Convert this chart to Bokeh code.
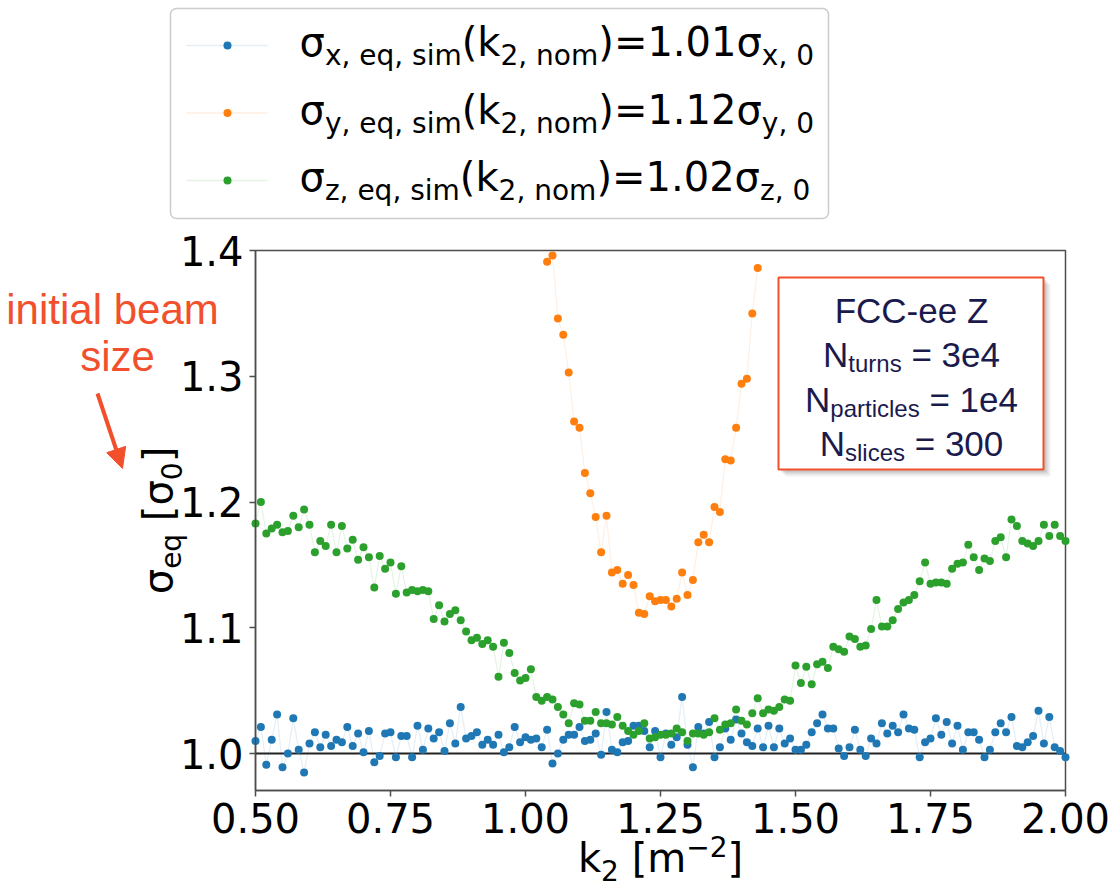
import math
from bokeh.plotting import figure
from bokeh.models import (Range1d, Label, BoxAnnotation, Arrow, NormalHead,
                          FixedTicker, NumeralTickFormatter, LinearAxis)
from bokeh.embed import file_html
from bokeh.resources import INLINE

# ---------------- data ----------------
k2 = [0.50, 0.51, 0.52, 0.53, 0.54, 0.55, 0.56, 0.57, 0.58, 0.59,
      0.60, 0.61, 0.62, 0.63, 0.64, 0.65, 0.66, 0.67, 0.68, 0.69,
      0.70, 0.71, 0.72, 0.73, 0.74, 0.75, 0.76, 0.77, 0.78, 0.79,
      0.80, 0.81, 0.82, 0.83, 0.84, 0.85, 0.86, 0.87, 0.88, 0.89,
      0.90, 0.91, 0.92, 0.93, 0.94, 0.95, 0.96, 0.97, 0.98, 0.99,
      1.00, 1.01, 1.02, 1.03, 1.04, 1.05, 1.06, 1.07, 1.08, 1.09,
      1.10, 1.11, 1.12, 1.13, 1.14, 1.15, 1.16, 1.17, 1.18, 1.19,
      1.20, 1.21, 1.22, 1.23, 1.24, 1.25, 1.26, 1.27, 1.28, 1.29,
      1.30, 1.31, 1.32, 1.33, 1.34, 1.35, 1.36, 1.37, 1.38, 1.39,
      1.40, 1.41, 1.42, 1.43, 1.44, 1.45, 1.46, 1.47, 1.48, 1.49,
      1.50, 1.51, 1.52, 1.53, 1.54, 1.55, 1.56, 1.57, 1.58, 1.59,
      1.60, 1.61, 1.62, 1.63, 1.64, 1.65, 1.66, 1.67, 1.68, 1.69,
      1.70, 1.71, 1.72, 1.73, 1.74, 1.75, 1.76, 1.77, 1.78, 1.79,
      1.80, 1.81, 1.82, 1.83, 1.84, 1.85, 1.86, 1.87, 1.88, 1.89,
      1.90, 1.91, 1.92, 1.93, 1.94, 1.95, 1.96, 1.97, 1.98, 1.99,
      2.00]

sigma_x = [1.010, 1.021, 0.991, 1.011, 1.031, 0.989, 1.000, 1.028, 1.003, 0.985,
           1.008, 1.017, 1.005, 1.015, 1.006, 1.011, 1.009, 1.021, 1.006, 1.016,
           1.001, 1.018, 0.993, 0.998, 1.016, 1.017, 0.997, 1.014, 1.014, 0.997,
           1.022, 1.003, 1.020, 1.012, 1.017, 1.002, 1.024, 1.008, 1.037, 1.012,
           1.014, 1.017, 1.007, 1.011, 1.007, 1.015, 1.001, 1.005, 1.021, 1.009,
           1.013, 1.011, 1.012, 1.005, 1.019, 0.992, 1.000, 1.011, 1.015, 1.015,
           1.021, 1.010, 1.011, 1.016, 0.999, 1.033, 1.003, 1.001, 1.009, 1.010,
           1.022, 1.022, 1.018, 1.005, 1.018, 0.997, 1.016, 1.007, 1.013, 1.045,
           1.007, 0.989, 1.021, 1.016, 1.025, 0.997, 1.005, 1.020, 1.011, 1.027,
           1.016, 1.009, 1.006, 1.020, 1.005, 1.022, 1.005, 1.020, 1.008, 1.012,
           1.003, 1.003, 1.007, 1.017, 1.024, 1.031, 1.020, 1.020, 1.004, 0.998,
           1.005, 1.019, 1.003, 0.998, 1.012, 1.008, 1.024, 1.016, 1.022, 1.017,
           1.031, 1.020, 1.019, 0.997, 1.009, 1.012, 1.028, 1.015, 1.025, 1.008,
           1.022, 1.003, 1.017, 1.017, 1.011, 0.997, 1.003, 1.017, 1.024, 1.017,
           1.029, 1.006, 1.005, 1.009, 1.014, 1.034, 1.008, 1.029, 1.005, 1.002,
           0.997]

sigma_z = [1.183, 1.200, 1.175, 1.179, 1.182, 1.176, 1.177, 1.189, 1.180, 1.194,
           1.182, 1.160, 1.169, 1.165, 1.182, 1.160, 1.181, 1.163, 1.170, 1.154,
           1.164, 1.156, 1.132, 1.157, 1.147, 1.152, 1.127, 1.149, 1.128, 1.130,
           1.129, 1.130, 1.129, 1.107, 1.118, 1.105, 1.111, 1.114, 1.106, 1.097,
           1.090, 1.092, 1.087, 1.090, 1.085, 1.061, 1.088, 1.080, 1.064, 1.058,
           1.060, 1.067, 1.045, 1.042, 1.045, 1.043, 1.037, 1.031, 1.024, 1.040,
           1.039, 1.026, 1.026, 1.033, 1.024, 1.024, 1.023, 1.029, 1.022, 1.018,
           1.015, 1.018, 1.024, 1.012, 1.013, 1.015, 1.015, 1.016, 1.020, 1.017,
           1.010, 1.016, 1.016, 1.015, 1.017, 1.028, 1.019, 1.023, 1.024, 1.035,
           1.026, 1.023, 1.032, 1.044, 1.032, 1.035, 1.034, 1.037, 1.043, 1.042,
           1.070, 1.056, 1.069, 1.055, 1.071, 1.073, 1.068, 1.085, 1.083, 1.081,
           1.093, 1.091, 1.085, 1.086, 1.099, 1.122, 1.101, 1.101, 1.106, 1.115,
           1.120, 1.122, 1.126, 1.137, 1.152, 1.135, 1.136, 1.136, 1.135, 1.147,
           1.151, 1.152, 1.166, 1.156, 1.146, 1.155, 1.153, 1.169, 1.172, 1.156,
           1.186, 1.181, 1.169, 1.167, 1.165, 1.169, 1.182, 1.173, 1.182, 1.173,
           1.169]

# sigma_y is only inside the plotted window between k2 = 1.04 and 1.43
k2_y = [1.04, 1.05, 1.06, 1.07, 1.08, 1.09, 1.10, 1.11, 1.12,
        1.13, 1.14, 1.15, 1.16, 1.17, 1.18, 1.19, 1.20, 1.21, 1.22,
        1.23, 1.24, 1.25, 1.26, 1.27, 1.28, 1.29, 1.30, 1.31, 1.32,
        1.33, 1.34, 1.35, 1.36, 1.37, 1.38, 1.39, 1.40, 1.41, 1.42,
        1.43]
sigma_y = [1.391, 1.396, 1.346, 1.333, 1.303, 1.264, 1.259, 1.223, 1.207,
           1.188, 1.160, 1.189, 1.144, 1.146, 1.135, 1.142, 1.134, 1.112, 1.111,
           1.125, 1.121, 1.122, 1.122, 1.117, 1.123, 1.144, 1.126, 1.138, 1.168,
           1.174, 1.168, 1.196, 1.192, 1.234, 1.233, 1.259, 1.294, 1.298, 1.350,
           1.386]

x_lim = (0.5, 2.0)
y_lim = (0.9706, 1.4)
x_ticks = [0.50, 0.75, 1.00, 1.25, 1.50, 1.75, 2.00]
y_ticks = [1.0, 1.1, 1.2, 1.3, 1.4]
ref_level = 1.0
planes = ["x", "y", "z"]
nominal_ratio = ["1.01", "1.12", "1.02"]
box_lines = [("FCC-ee Z", "", ""), ("N", "turns", " = 3e4"),
             ("N", "particles", " = 1e4"), ("N", "slices", " = 300")]

COLORS = ["#1f77b4", "#ff7f0e", "#2ca02c"]
RED = "#f2502c"
NAVY = "#1b1a4d"
SPINE = "#4d4d4d"

# ---------------- figure: frame = whole canvas, axes pinned inside ----------------
W, H = 1112, 889
PX_L, PX_R, PX_T, PX_B = 255, 1065, 250, 790          # pixel box of the axes
sx = (PX_R - PX_L) / (x_lim[1] - x_lim[0])
sy = (PX_B - PX_T) / (y_lim[1] - y_lim[0])
xr = Range1d(x_lim[0] - PX_L / sx, x_lim[1] + (W - PX_R) / sx)
yr = Range1d(y_lim[0] - (H - PX_B) / sy, y_lim[1] + PX_T / sy)

p = figure(width=W, height=H, x_range=xr, y_range=yr,
           x_axis_location=None, y_axis_location=None,
           output_backend="svg", toolbar_location=None,
           min_border=0, min_border_left=0, min_border_right=0,
           min_border_top=0, min_border_bottom=0)
p.title.visible = False
p.xgrid.visible = False
p.ygrid.visible = False
p.outline_line_color = None
p.background_fill_color = "white"
p.border_fill_color = "white"

xaxis = LinearAxis(fixed_location=y_lim[0], bounds=x_lim,
                   ticker=FixedTicker(ticks=x_ticks),
                   formatter=NumeralTickFormatter(format="0.00"))
yaxis = LinearAxis(fixed_location=x_lim[0], bounds=y_lim,
                   ticker=FixedTicker(ticks=y_ticks),
                   formatter=NumeralTickFormatter(format="0.0"))
for ax in (xaxis, yaxis):
    ax.major_label_text_font = "DejaVu Sans"
    ax.major_label_text_font_size = "40px"
    ax.major_label_text_color = "black"
    ax.axis_line_color = SPINE
    ax.axis_line_width = 1.5
    ax.major_tick_line_color = SPINE
    ax.major_tick_line_width = 1.5
    ax.major_tick_out = 6
    ax.major_tick_in = 0
    ax.minor_tick_out = 0
    ax.minor_tick_in = 0
    ax.major_label_standoff = 6
p.add_layout(xaxis, "below")
p.add_layout(yaxis, "left")

# axes box (top / right spines)
p.add_layout(BoxAnnotation(left=x_lim[0], right=x_lim[1], bottom=y_lim[0], top=y_lim[1],
                           fill_alpha=0.0, line_color=SPINE, line_alpha=1.0,
                           line_width=1.5, level="underlay"))

# reference line at sigma = sigma_0
p.line(x=list(x_lim), y=[ref_level, ref_level], line_color="#222222", line_width=2)

series = [(k2, sigma_x), (k2_y, sigma_y), (k2, sigma_z)]
for (xs, ys), c in zip(series, COLORS):
    p.line(xs, ys, line_color=c, line_alpha=0.12, line_width=1.2)
    p.scatter(xs, ys, size=8, fill_color=c, line_color=c, line_width=0)

# ---------------- text helpers (canvas pixel units, y from top) ----------------
DV = {'σ': 0.635, 'x': 0.592, 'y': 0.592, 'z': 0.525, ',': 0.318, ' ': 0.318,
      'e': 0.615, 'q': 0.635, 's': 0.521, 'i': 0.278, 'm': 0.974, '(': 0.390,
      ')': 0.390, 'k': 0.579, 'n': 0.634, 'o': 0.612, '=': 0.838, '.': 0.318,
      '[': 0.390, ']': 0.390, '−': 0.838}
AR = {'N': 0.722, 't': 0.278, 'u': 0.556, 'r': 0.333, 'n': 0.556, 's': 0.5,
      'p': 0.556, 'a': 0.556, 'i': 0.222, 'c': 0.5, 'l': 0.222, 'e': 0.556,
      ' ': 0.278, '=': 0.584, 'F': 0.611, 'C': 0.722, '-': 0.333, 'Z': 0.611}
BASE_FIX = 0.38   # empirical shift of the drawn baseline (em)


def tw(txt, size, table, digit):
    return sum(table.get(ch, digit) for ch in txt) * size


def lab(text, x, y, size, color="black", font="DejaVu Sans", align="left", angle=0.0):
    if angle:
        x -= BASE_FIX * size
    else:
        y -= BASE_FIX * size
    p.add_layout(Label(x=x, y=y, x_units="canvas", y_units="canvas", text=text,
                       text_font=font, text_font_size=f"{size}px", text_color=color,
                       text_align=align, text_baseline="alphabetic", angle=angle))


def compose(pieces, x0, y0, font, sm, ss, table, digit, color, dsub, dsup=0, vertical=False):
    pos = 0.0
    for txt, kind in pieces:
        if not txt:
            continue
        s = sm if kind == "main" else ss
        off = 0 if kind == "main" else (dsub if kind == "sub" else -dsup)
        lead = len(txt) - len(txt.lstrip(" "))
        pos += tw(" " * lead, s, table, digit)
        core = txt.strip(" ")
        if vertical:
            lab(core, x0 + off, y0 - pos, s, color, font, angle=math.pi / 2)
        else:
            lab(core, x0 + pos, y0 + off, s, color, font)
        pos += tw(txt.lstrip(" "), s, table, digit)
    return pos


def total(pieces, sm, ss, table, digit):
    return sum(tw(t, sm if k == "main" else ss, table, digit) for t, k in pieces)


def cbox(l, r, t, b, **kw):
    p.add_layout(BoxAnnotation(left=l, right=r, top=t, bottom=b,
                               left_units="canvas", right_units="canvas",
                               top_units="canvas", bottom_units="canvas", **kw))


# ---------------- legend (top box) ----------------
cbox(170, 828, 8, 218, fill_color="white", fill_alpha=1.0,
     line_color="#cccccc", line_alpha=1.0, line_width=1.5, border_radius=6)
for i, (pl, val, c) in enumerate(zip(planes, nominal_ratio, COLORS)):
    yc = 45 + 67.5 * i
    cbox(186, 267, yc - 0.8, yc + 0.8, fill_color=c, fill_alpha=0.12, line_color=None)
    cbox(223, 231, yc - 4, yc + 4, fill_color=c, fill_alpha=1.0, line_color=None,
         border_radius=4)
    pieces = [("σ", "main"), (f"{pl}, eq, sim", "sub"), ("(k", "main"),
              ("2, nom", "sub"), (f")={val}σ", "main"), (f"{pl}, 0", "sub")]
    compose(pieces, 299, yc + 12, "DejaVu Sans", 40, 28, DV, 0.636, "black", 9)

# ---------------- FCC box ----------------
for d, a in ((7, 0.10), (5, 0.15), (3, 0.22)):
    cbox(778 + d, 1043 + d, 277 + d, 469 + d, fill_color="#777777", fill_alpha=a,
         line_color=None)
cbox(778, 1043, 277, 469, fill_color="white", fill_alpha=1.0,
     line_color=RED, line_alpha=1.0, line_width=2)
for j, (a, b, c) in enumerate(box_lines):
    pieces = [(a, "main"), (b, "sub"), (c, "main")]
    wtot = total(pieces, 35, 24, AR, 0.556)
    compose(pieces, 911 - wtot / 2, 323 + 44.5 * j, "Liberation Sans", 35, 24, AR, 0.556, NAVY, 5)

# ---------------- axis titles ----------------
xl = [("k", "main"), ("2", "sub"), (" [m", "main"), ("−2", "sup"), ("]", "main")]
wx = total(xl, 40, 28, DV, 0.636)
compose(xl, 660 - wx / 2, 873, "DejaVu Sans", 40, 28, DV, 0.636, "black", 8, 16)

yl = [("σ", "main"), ("eq", "sub"), (" [σ", "main"), ("0", "sub"), ("]", "main")]
wy = total(yl, 40, 28, DV, 0.636)
compose(yl, 173, 520 + wy / 2, "DejaVu Sans", 40, 28, DV, 0.636, "black", 9, vertical=True)

# ---------------- "initial beam size" annotation ----------------
lab("initial beam", 112, 325, 42, RED, "Liberation Sans", align="center")
lab("size", 117, 372, 42, RED, "Liberation Sans", align="center")
p.add_layout(Arrow(end=NormalHead(size=20, fill_color=RED, line_color=RED),
                   x_start=97, y_start=393, x_end=122, y_end=468,
                   start_units="canvas", end_units="canvas",
                   line_color=RED, line_width=4))

open("out.html", "w").write(file_html(p, INLINE))
